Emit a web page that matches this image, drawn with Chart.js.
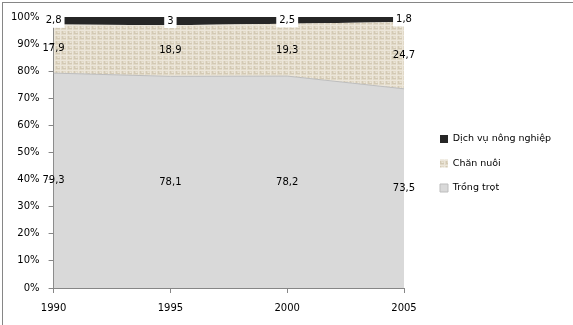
<!DOCTYPE html>
<html>
<head>
<meta charset="utf-8">
<script src="https://cdn.jsdelivr.net/npm/chart.js@4/dist/chart.umd.min.js"></script>
<style>
  html, body { margin: 0; padding: 0; background: #fff; }
  #wrap { position: relative; width: 573px; height: 325px; }
</style>
</head>
<body>
<div id="wrap"><canvas id="chart" width="573" height="325"></canvas></div>
<script>
// data (percent shares, each year sums to 100)
const years = ['1990', '1995', '2000', '2005'];
const trongTrot = [79.3, 78.1, 78.2, 73.5];
const chanNuoi = [17.9, 18.9, 19.3, 24.7];
const dichVu = [2.8, 3, 2.5, 1.8];
const yTicks = [0, 10, 20, 30, 40, 50, 60, 70, 80, 90, 100];

const FONT = '"DejaVu Sans", sans-serif';
const AXIS = '#868686';

// beige "burlap" fill like the office texture
function fabricPattern() {
    const c = document.createElement('canvas');
    c.width = 6;
    c.height = 5;
    const g = c.getContext('2d');
    g.fillStyle = '#e1d9c7';
    g.fillRect(0, 0, 6, 5);
    g.fillStyle = '#ece6da';
    g.fillRect(0, 0, 6, 1);
    g.fillRect(0, 0, 1, 5);
    g.fillRect(4, 2, 1, 2);
    g.fillStyle = '#d3c9b4';
    g.fillRect(2, 3, 4, 1);
    g.fillRect(2, 1, 1, 2);
    return g.createPattern(c, 'repeat');
}

// outer frame of the chart object
const frame = {
    id: 'frame',
    beforeDraw(chart) {
        const ctx = chart.ctx;
        ctx.save();
        ctx.strokeStyle = AXIS;
        ctx.lineWidth = 1;
        ctx.strokeRect(2.5, 2.5, 700, 500);
        ctx.restore();
    }
};

// move the legend block to where the original sits (boxes from x 440, centred near y 163)
const legendSpot = {
    id: 'legendSpot',
    afterLayout(chart) {
        const lg = chart.legend;
        if (!lg) return;
        const dx = 440 - (lg.left + lg.options.labels.padding);
        const dy = 163.5 - (lg.top + lg.bottom) / 2;
        lg.left += dx;
        lg.right += dx;
        lg.top += dy;
        lg.bottom += dy;
    }
};

// value labels in the middle of each stacked band
const valueLabels = {
    id: 'valueLabels',
    afterDatasetsDraw(chart) {
        const { ctx, scales: { x, y } } = chart;
        const base = years.map(() => 0);
        ctx.save();
        ctx.font = '10px ' + FONT;
        ctx.textAlign = 'center';
        ctx.textBaseline = 'middle';
        chart.data.datasets.forEach((ds) => {
            ds.data.forEach((v, j) => {
                const px = x.getPixelForValue(j);
                const py = y.getPixelForValue(base[j] + v / 2);
                base[j] += v;
                const text = String(v).replace('.', ',');
                if (ds.boxedLabels) {
                    const w = ctx.measureText(text).width + 6;
                    ctx.fillStyle = '#fff';
                    ctx.fillRect(px - w / 2, py - 7, w, 14);
                }
                ctx.fillStyle = '#000';
                ctx.fillText(text, px, py);
            });
        });
        ctx.restore();
    }
};

new Chart(document.getElementById('chart'), {
    type: 'line',
    data: {
        labels: years,
        datasets: [
            {
                label: 'Trồng trọt',
                data: trongTrot,
                fill: 'origin',
                backgroundColor: '#d9d9d9',
                borderColor: '#bdbdbd',
                borderWidth: 1
            },
            {
                label: 'Chăn nuôi',
                data: chanNuoi,
                fill: '-1',
                backgroundColor: fabricPattern(),
                borderColor: '#ddd4c1',
                borderWidth: 0
            },
            {
                label: 'Dịch vụ nông nghiệp',
                data: dichVu,
                fill: '-1',
                backgroundColor: '#262626',
                borderColor: '#262626',
                borderWidth: 0,
                boxedLabels: true
            }
        ]
    },
    options: {
        responsive: false,
        animation: false,
        layout: { padding: { left: 2, top: 17, right: 35, bottom: 2 } },
        elements: {
            point: { radius: 0, hoverRadius: 0 },
            line: { tension: 0 }
        },
        scales: {
            x: {
                offset: false,
                grid: { drawOnChartArea: false, color: AXIS, tickLength: 5 },
                border: { color: AXIS },
                ticks: { color: '#000', font: { family: FONT, size: 10 }, padding: 9, maxRotation: 0 }
            },
            y: {
                stacked: true,
                min: 0,
                max: 100,
                afterBuildTicks(scale) {
                    scale.ticks = yTicks.map(v => ({ value: v }));
                },
                grid: { drawOnChartArea: false, color: AXIS, tickLength: 5 },
                border: { color: AXIS },
                ticks: {
                    color: '#000',
                    font: { family: FONT, size: 10 },
                    padding: 9,
                    callback: v => v + '%'
                }
            }
        },
        plugins: {
            legend: {
                position: 'right',
                reverse: true,
                labels: {
                    boxWidth: 8,
                    boxHeight: 8,
                    padding: 15,
                    color: '#000',
                    font: { family: FONT, size: 9.5 }
                }
            },
            tooltip: { enabled: false }
        }
    },
    plugins: [frame, legendSpot, valueLabels]
});
</script>
</body>
</html>
